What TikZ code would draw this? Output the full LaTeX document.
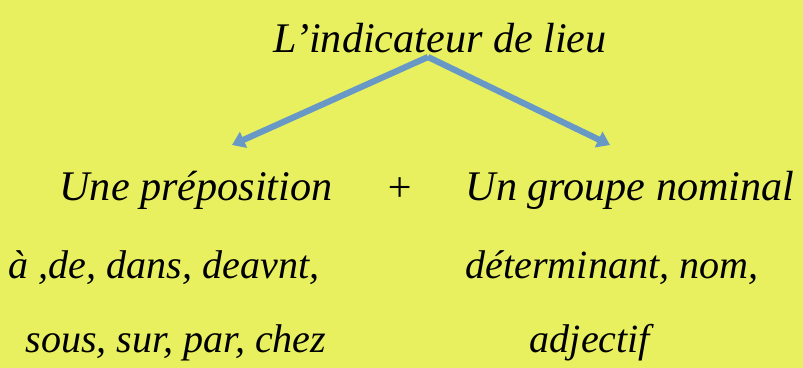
\documentclass[tikz,border=0pt]{standalone}
\usepackage{fontspec}
\setmainfont{Liberation Serif}
\usetikzlibrary{arrows.meta}
\definecolor{bgyellow}{RGB}{232,240,96}
\definecolor{arrowblue}{RGB}{104,152,198}
\begin{document}
\begin{tikzpicture}[
  x=0.025cm, y=-0.025cm,
  title/.style={font=\itshape\fontsize{30}{34}\selectfont, inner sep=0pt},
  head/.style={font=\itshape\fontsize{30}{34}\selectfont, inner sep=0pt},
  item/.style={font=\itshape\fontsize{28.5}{32}\selectfont, inner sep=0pt},
  link/.style={arrowblue, line width=4.4pt,
               -{Triangle[length=9pt,width=12pt]}}
]
\fill[bgyellow] (0,0) rectangle (803,368);
\useasboundingbox (0,0) rectangle (803,368);

\node[title] (lieu)   at (440,38)  {L’indicateur de lieu};
\coordinate  (fork)   at (428,57);
\coordinate  (leftend)  at (232,145);
\coordinate  (rightend) at (610,145);

\node[head] (prep)    at (196,190) {Une préposition};
\node[head] (plus)    at (400,190) {+};
\node[head] (gn)      at (630,190) {Un groupe nominal};

\node[item] (prepa)   at (164,268) {à ,de, dans, deavnt,};
\node[item] (prepb)   at (176,343) {sous, sur, par, chez};
\node[item] (gna)     at (612,268) {déterminant, nom,};
\node[item] (gnb)     at (590,343) {adjectif};

\draw[link] (fork) -- (leftend);
\draw[link] (fork) -- (rightend);
\end{tikzpicture}
\end{document}
